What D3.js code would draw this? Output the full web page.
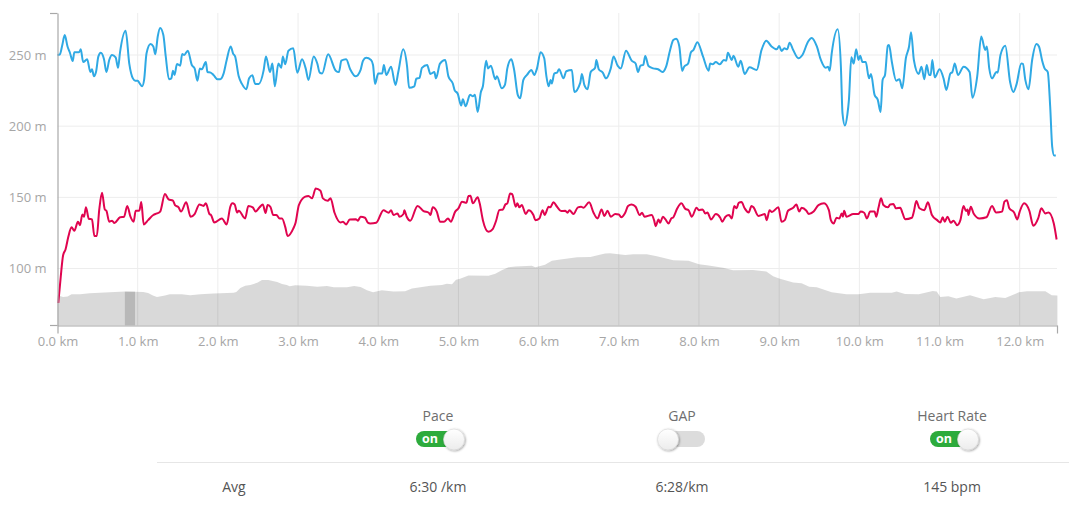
<!DOCTYPE html>
<html>
<head>
<meta charset="utf-8">
<script src="https://cdn.jsdelivr.net/npm/d3@7"></script>
<style>
    body { margin: 0; background: #fff; overflow: hidden; }
    text { font-family: "Open Sans", sans-serif; }
    .axis-label text { fill: #a6a6a6; font-size: 13px; }
    .axis-label .domain { display: none; }
    .axis-edge path, .axis-edge line { stroke: #a8a8a8; stroke-width: 1.2; }
</style>
</head>
<body>
<svg id="chart" width="1070" height="516"></svg>
<script>
// pace line
const paceKm = [0,.03,.06,.09,.125,.155,.19,.21,.27,.29,.32,.37,.41,.43,.455,.48,.51,.54,.58,.61,.645,.68,.725,.755,.78,.85,.895,.94,.97,1,1.025,1.055,1.08,1.11,1.16,1.195,1.22,1.25,1.28,1.32,1.35,1.39,1.42,1.44,1.46,1.49,1.53,1.555,1.58,1.625,1.675,1.71,1.745,1.775,1.8,1.85,1.87,1.91,1.945,1.995,2.03,2.07,2.11,2.16,2.19,2.215,2.26,2.3,2.355,2.39,2.43,2.465,2.51,2.57,2.6,2.65,2.68,2.71,2.755,2.79,2.81,2.84,2.88,2.94,2.99,3.05,3.095,3.13,3.195,3.24,3.27,3.3,3.375,3.47,3.51,3.54,3.6,3.65,3.72,3.78,3.81,3.85,3.91,3.935,3.96,4,4.05,4.07,4.1,4.16,4.215,4.25,4.31,4.36,4.385,4.45,4.475,4.515,4.545,4.61,4.65,4.7,4.72,4.77,4.835,4.875,4.93,4.955,4.99,5.035,5.055,5.09,5.145,5.18,5.205,5.24,5.28,5.305,5.345,5.37,5.405,5.46,5.48,5.54,5.58,5.61,5.66,5.695,5.74,5.77,5.81,5.855,5.91,5.945,5.98,6.025,6.07,6.095,6.125,6.15,6.165,6.195,6.23,6.255,6.31,6.345,6.415,6.445,6.52,6.54,6.57,6.61,6.65,6.705,6.72,6.75,6.8,6.84,6.9,6.935,6.985,7.025,7.09,7.16,7.21,7.24,7.27,7.305,7.33,7.37,7.43,7.49,7.545,7.59,7.64,7.68,7.715,7.755,7.79,7.815,7.865,7.9,7.93,7.98,8.05,8.12,8.14,8.17,8.21,8.26,8.31,8.34,8.36,8.41,8.43,8.49,8.52,8.57,8.63,8.72,8.78,8.84,8.905,8.97,9,9.03,9.065,9.1,9.13,9.175,9.24,9.29,9.36,9.405,9.47,9.52,9.58,9.61,9.63,9.655,9.73,9.77,9.79,9.82,9.85,9.87,9.9,9.93,9.96,9.99,10.01,10.04,10.08,10.12,10.145,10.19,10.23,10.265,10.29,10.32,10.355,10.37,10.405,10.46,10.5,10.535,10.58,10.62,10.645,10.68,10.74,10.775,10.81,10.84,10.87,10.89,10.91,10.94,11,11.05,11.085,11.135,11.16,11.19,11.23,11.3,11.375,11.41,11.47,11.52,11.57,11.59,11.62,11.655,11.71,11.725,11.76,11.82,11.88,11.92,11.96,12.02,12.04,12.07,12.11,12.155,12.21,12.24,12.28,12.31,12.35,12.38,12.405,12.43,12.45];
const paceVal = [250,250.5,257,264,256,251.6,245.8,252,252,254,245,247,238,240,235,238,249,251.6,247,238,246.5,250,248.4,241,252,267,244,233.6,232,232,230,228,232.5,251,257.7,256,250.5,263,269,264,249,233,233.6,239,236,243.7,242.5,250.7,250,253,243,240.6,232,240.6,240,245,238,237.6,236,233,233,236.7,246.5,256,251,249,235,229.7,226,233.6,235.7,229.7,229.7,239,249,238,244,228,244,241,249,243.5,253,254.7,237.6,247,240.6,232.5,249,244,237.6,237,250.5,239,238,246,247,240,235,239.5,246,248,246.5,243,229.7,237,237,243,236,241.8,229,238,254,241.8,227,228,233.4,234,241,243,236.7,238,233.6,244,246.5,235,230,225,223,214.5,219,214,222,221,222,210,224,228,246,240.6,242.5,233,235,226.6,229,240.6,247,239.5,222,219.6,232.5,236,239.5,236,240.6,252,247.7,236,228,232.5,230,237,237.6,240,233.6,238.6,239.5,224,230.6,236.7,229,226,238,241,246.5,240,237.6,233.6,240.6,249,242.5,240.6,253,246,244,238,242.5,243,249.3,242.3,240.6,240,238,241.8,253.5,260.5,261.4,256,238.8,241.8,244,252,253.5,259,249,239,244,243.5,245,243.5,246.5,246,251.6,246.5,249.5,241.8,246,236.7,241.4,239.5,253.5,260,256,254,256.3,252.8,254.7,254,258.6,253.5,247.7,250,259.3,262,256,246.5,241,241.8,239,251,268,241.8,209,200.5,208,218.5,248.4,244,254,246.5,249.5,245,245,233.6,236.7,222,218.5,210,232.5,236,256.5,257,245.3,232,233,226.6,247.7,256,266,246.5,236.7,241.8,233,243,236,236,246.5,234.3,240,233.6,225.5,237,238,244,236,241.8,238,220,235,263,253.5,256,240.6,233.6,238,237.6,250,256.5,231,224,229.4,244,243.7,232.5,226,246.5,257.7,256,246,240.6,238,213.8,185.7,179.4,179.4];

// heart rate line
const heartKm = [.01,.04,.07,.1,.135,.175,.21,.255,.28,.31,.33,.355,.39,.43,.46,.49,.52,.555,.59,.61,.645,.68,.71,.78,.83,.87,.91,.95,.975,1.02,1.045,1.075,1.13,1.195,1.24,1.28,1.34,1.385,1.44,1.465,1.51,1.54,1.605,1.66,1.71,1.77,1.82,1.85,1.895,1.915,1.955,2.05,2.11,2.155,2.18,2.21,2.24,2.26,2.34,2.38,2.435,2.47,2.52,2.56,2.595,2.62,2.655,2.69,2.73,2.77,2.8,2.84,2.87,2.94,2.97,3.01,3.09,3.13,3.175,3.22,3.28,3.31,3.37,3.405,3.455,3.53,3.56,3.6,3.645,3.72,3.745,3.78,3.835,3.87,3.9,3.975,4.065,4.13,4.16,4.19,4.24,4.265,4.315,4.325,4.355,4.4,4.49,4.565,4.63,4.65,4.68,4.73,4.77,4.82,4.87,4.905,4.96,5,5.045,5.1,5.125,5.15,5.18,5.24,5.265,5.305,5.375,5.425,5.47,5.51,5.555,5.585,5.61,5.645,5.67,5.715,5.735,5.76,5.79,5.84,5.875,5.935,5.96,6.01,6.05,6.075,6.125,6.145,6.185,6.23,6.28,6.33,6.36,6.385,6.435,6.49,6.53,6.56,6.63,6.685,6.735,6.785,6.82,6.86,6.9,6.955,7,7.03,7.08,7.115,7.16,7.21,7.26,7.29,7.32,7.41,7.44,7.46,7.495,7.515,7.55,7.58,7.62,7.655,7.68,7.73,7.78,7.83,7.87,7.91,7.97,8,8.045,8.08,8.105,8.15,8.21,8.265,8.29,8.33,8.375,8.41,8.44,8.47,8.495,8.53,8.57,8.62,8.655,8.68,8.74,8.78,8.82,8.845,8.88,8.91,8.99,9.03,9.07,9.11,9.175,9.215,9.25,9.28,9.34,9.37,9.43,9.49,9.56,9.62,9.645,9.68,9.715,9.75,9.78,9.795,9.81,9.84,9.925,9.99,10.015,10.06,10.095,10.135,10.19,10.21,10.24,10.27,10.3,10.355,10.385,10.425,10.455,10.51,10.54,10.57,10.655,10.68,10.71,10.75,10.81,10.855,10.905,10.97,11.01,11.04,11.065,11.1,11.14,11.175,11.22,11.26,11.3,11.33,11.35,11.36,11.39,11.425,11.5,11.585,11.655,11.705,11.78,11.81,11.84,11.87,11.93,11.97,12,12.055,12.12,12.17,12.23,12.27,12.32,12.36,12.425,12.46];
const heartVal = [75.8,94,109.4,113.4,122.3,129,126.5,132.9,130.5,138,136.4,143,135,134.5,122.8,122.8,141,153.3,141.5,140.6,132.9,133.6,132,136,136.4,144,136.4,132.9,140.6,140.6,146.7,131,134,137.6,138.7,140,152.3,148.6,147.7,144.6,143,140,146.5,136.4,138.3,145,144,145.8,138.3,137.6,132.4,135.2,131,143.4,145.8,145,139.4,140.6,135.2,144,143,140,143,145,139,144.6,143.4,137.6,137.6,135.2,135.2,129.3,122.8,128,132.4,144.6,150.5,151,149.3,156.3,154.7,149.3,147.7,149.3,139.2,132.4,132.9,131,134.5,134.7,133.6,136.4,135.7,132.2,131.7,132.2,141,139.2,141,137.6,138.7,136.4,138.3,141,136.4,133.6,144,140.4,139.2,137.6,143,140,132.9,132.9,135.2,132.9,140,142.3,147,146.2,151,151.2,145.8,150,145.8,134,125.8,127.5,133.6,141,141.5,145,145.8,152.8,152.3,143.4,145.8,143,144.6,138.3,141,137.6,134,135.2,141,137.6,143.4,143,146.5,143.4,140.4,140.6,139.2,141,138.3,143,143.4,142.7,146.5,139.2,135.2,141.5,137,140.6,136.4,138.3,138,136,139.2,143.9,145,143.4,137.6,139.2,136.4,137.6,134,129.8,134.5,132.2,136.4,134.7,131.7,135.2,136,142.3,145.8,141.9,141,136.4,142.7,141,141.5,138.7,139.4,134.5,138.3,135.7,132.9,136.4,137.6,135.2,143.9,142.3,146.2,146.7,142.3,139.4,143.9,143,137,137.6,138.3,134,141,139.7,143,132.9,134,140.6,142.7,145,140,142.7,140.6,138.3,140,144.6,145.8,141,134,131.7,135.7,135.2,138.7,136.4,140.6,136.4,138.3,138.3,140,139.2,135.2,140,140,136.4,143,149.3,144.6,143,145,145.3,142.3,142.7,138.7,134.7,135.7,140,147.4,142.3,141,146.5,137.6,134,132.4,136,132.9,136.4,132.2,133.6,130.5,134,144,140.4,141.5,137.6,143.4,138.7,135.2,136,143.9,139.4,140,147,148,142.3,139.4,134.5,140,145.8,140.6,130,135.2,142.3,138.7,139.4,131.7,120.4];

// elevation area
const elevKm = [0,.07,.125,.175,.28,.4,.65,.84,1.07,1.13,1.19,1.24,1.34,1.4,1.55,1.655,1.78,1.945,2.195,2.23,2.28,2.34,2.405,2.49,2.55,2.63,2.74,2.8,2.86,2.895,2.965,3.11,3.24,3.36,3.445,3.61,3.7,3.78,3.86,3.935,4.045,4.19,4.335,4.42,4.525,4.65,4.795,4.855,4.92,4.97,5.02,5.125,5.375,5.46,5.54,5.625,5.71,5.915,5.96,6.08,6.165,6.27,6.48,6.645,6.83,6.89,7,7.08,7.18,7.35,7.475,7.68,7.87,8,8.1,8.3,8.425,8.675,8.84,8.925,9,9.175,9.28,9.375,9.47,9.655,9.84,9.99,10.135,10.405,10.465,10.57,10.74,10.915,10.965,11.01,11.11,11.21,11.38,11.55,11.695,11.82,11.99,12.09,12.32,12.4,12.47];
const elevVal = [81.2,80,80.3,82,82,82.6,83.3,83.8,83.6,82.9,81,80,81,82,82,81.2,82,82.4,83,83.6,86.4,88,88.5,90,92,92,90.6,89.2,88.5,87.6,88.3,88,87.3,87.8,86.8,86.8,87.8,87,84.7,83.3,84.7,83.8,84,86,86.8,88,88.5,89.4,89,92.2,92.9,95.2,95,96.4,98.8,100.9,101.4,101.9,100.9,102.6,105.4,106.3,108,108.2,110.6,110.8,110,109.6,110,110,108.6,105.8,105.4,103,102.3,100.5,98.8,99,98,94.6,93,90.2,89.7,87.3,86.8,83.3,82,82,83,83,83.8,82.2,82,84.3,83.8,80,80.5,79,81.2,78.4,80,79.3,83.3,84,84,81.2,81];

const kmTicks = d3.range(0, 13);
const valueTicks = [100, 150, 200, 250];
const markerKm = [0.84, 0.967];

const toggleLabels = ["Pace", "GAP", "Heart Rate"];
const toggleOn = [true, false, true];
const toggleCenters = [438, 682, 952];
const avgValues = ["6:30 /km", "6:28/km", "145 bpm"];

const svg = d3.select("#chart");

const x = d3.scaleLinear().domain([0, 12.465]).range([57.5, 1057]);
const y = d3.scaleLinear().domain([60, 279.5]).range([325.5, 13]);

// grid
svg.append("g").selectAll("line").data(kmTicks.slice(1)).join("line")
    .attr("x1", d => x(d)).attr("x2", d => x(d))
    .attr("y1", y.range()[1]).attr("y2", y.range()[0])
    .attr("stroke", "#ededed");
svg.append("g").selectAll("line").data(valueTicks).join("line")
    .attr("x1", x.range()[0]).attr("x2", x.range()[1])
    .attr("y1", d => y(d)).attr("y2", d => y(d))
    .attr("stroke", "#ededed");

// elevation
const area = d3.area()
    .x(d => x(d[0]))
    .y0(y(60))
    .y1(d => y(d[1]));
svg.append("path")
    .datum(d3.zip(elevKm, elevVal))
    .attr("d", area)
    .attr("fill", "#000")
    .attr("fill-opacity", 0.15);

// dark marker on the elevation profile
const elevAt = d3.scaleLinear().domain(elevKm).range(elevVal);
svg.append("rect")
    .attr("x", x(markerKm[0]))
    .attr("width", x(markerKm[1]) - x(markerKm[0]))
    .attr("y", y(elevAt(markerKm[0])))
    .attr("height", y(60) - y(elevAt(markerKm[0])))
    .attr("fill", "#000")
    .attr("fill-opacity", 0.15);

// lines
const line = d3.line().curve(d3.curveMonotoneX).x(d => x(d[0])).y(d => y(d[1]));
svg.append("path")
    .datum(d3.zip(paceKm, paceVal))
    .attr("d", line)
    .attr("fill", "none")
    .attr("stroke", "#2fa9e4")
    .attr("stroke-width", 2)
    .attr("stroke-linejoin", "round");
svg.append("path")
    .datum(d3.zip(heartKm, heartVal))
    .attr("d", line)
    .attr("fill", "none")
    .attr("stroke", "#e0044f")
    .attr("stroke-width", 2)
    .attr("stroke-linejoin", "round");

// axes
svg.append("g")
    .attr("class", "axis-edge")
    .attr("transform", `translate(0,${y(60)})`)
    .call(d3.axisBottom(x).tickValues(x.domain()).tickSize(8).tickSizeOuter(0).tickFormat(""));
svg.append("line")
    .attr("x1", 50).attr("x2", 57.5)
    .attr("y1", y(60)).attr("y2", y(60))
    .attr("stroke", "#a8a8a8").attr("stroke-width", 1.2);
svg.append("g")
    .attr("class", "axis-edge")
    .attr("transform", `translate(${x(0)},0)`)
    .call(d3.axisLeft(y).tickValues([y.domain()[1]]).tickSize(7.5).tickSizeOuter(0).tickFormat(""));

svg.append("g")
    .attr("class", "axis-label")
    .attr("transform", `translate(0,${y(60)})`)
    .call(d3.axisBottom(x).tickValues(kmTicks).tickSize(0).tickPadding(11).tickFormat(d => d3.format(".1f")(d) + " km"))
    .call(g => g.selectAll("line").remove());
svg.append("g")
    .attr("class", "axis-label")
    .attr("transform", `translate(${x(0)},0)`)
    .call(d3.axisLeft(y).tickValues(valueTicks).tickSize(0).tickPadding(11).tickFormat(d => d + " m"))
    .call(g => g.selectAll("line").remove());

// toggles and averages under the chart
const defs = svg.append("defs");
const knobGrad = defs.append("linearGradient").attr("id", "knob").attr("x1", 0).attr("x2", 0).attr("y1", 0).attr("y2", 1);
knobGrad.append("stop").attr("offset", "0%").attr("stop-color", "#ffffff");
knobGrad.append("stop").attr("offset", "100%").attr("stop-color", "#ececec");
const shadow = defs.append("filter").attr("id", "knobShadow").attr("x", "-30%").attr("y", "-30%").attr("width", "170%").attr("height", "170%");
shadow.append("feDropShadow").attr("dx", 0.8).attr("dy", 0.8).attr("stdDeviation", 0.9).attr("flood-color", "#000").attr("flood-opacity", 0.4);

const toggles = svg.append("g").selectAll("g").data(toggleLabels).join("g")
    .attr("transform", (d, i) => `translate(${toggleCenters[i]},0)`);

toggles.append("text")
    .attr("y", 421)
    .attr("text-anchor", "middle")
    .attr("font-size", 14)
    .attr("fill", "#6e6e6e")
    .text(d => d);

toggles.append("rect")
    .attr("x", (d, i) => toggleOn[i] ? -22 : -24)
    .attr("y", 431)
    .attr("width", 47)
    .attr("height", 16)
    .attr("rx", 8)
    .attr("fill", (d, i) => toggleOn[i] ? "#2dab3c" : "#dcdcdc");

toggles.filter((d, i) => toggleOn[i]).append("text")
    .attr("x", -8)
    .attr("y", 443)
    .attr("text-anchor", "middle")
    .attr("font-size", 12.5)
    .attr("font-weight", 700)
    .attr("fill", "#fff")
    .text("on");

toggles.append("circle")
    .attr("cx", (d, i) => toggleOn[i] ? 16 : -14)
    .attr("cy", 439.5)
    .attr("r", 10.5)
    .attr("fill", "url(#knob)")
    .attr("stroke", "#d6d6d6")
    .attr("stroke-width", 0.6)
    .attr("filter", "url(#knobShadow)");

svg.append("line")
    .attr("x1", 157).attr("x2", 1069)
    .attr("y1", 462.5).attr("y2", 462.5)
    .attr("stroke", "#e6e6e6");

svg.append("text")
    .attr("x", 234).attr("y", 492)
    .attr("text-anchor", "middle")
    .attr("font-size", 14)
    .attr("fill", "#555")
    .text("Avg");

svg.append("g").selectAll("text").data(avgValues).join("text")
    .attr("x", (d, i) => toggleCenters[i])
    .attr("y", 492)
    .attr("text-anchor", "middle")
    .attr("font-size", 14)
    .attr("fill", "#555")
    .text(d => d);
</script>
</body>
</html>
